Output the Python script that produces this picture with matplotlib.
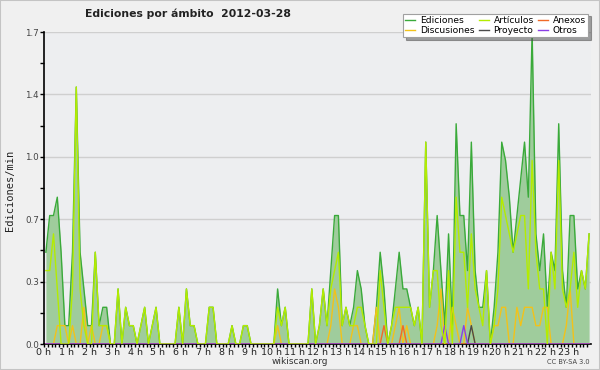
import numpy as np
import matplotlib
matplotlib.use("Agg")
import matplotlib.pyplot as plt
from matplotlib.patches import Rectangle

# Edits per minute, 10-minute bins (144 per day)
ediciones = [
    0.5, 0.7, 0.7, 0.8, 0.5, 0.1, 0.1, 0.5, 1.4, 0.5, 0.3, 0.1,
    0.1, 0.5, 0.1, 0.2, 0.2, 0.0, 0.0, 0.3, 0.0, 0.2, 0.1, 0.1,
    0.0, 0.1, 0.2, 0.0, 0.1, 0.2, 0.0, 0.0, 0.0, 0.0, 0.0, 0.2,
    0.0, 0.3, 0.1, 0.1, 0.0, 0.0, 0.0, 0.2, 0.2, 0.0, 0.0, 0.0,
    0.0, 0.1, 0.0, 0.0, 0.1, 0.1, 0.0, 0.0, 0.0, 0.0, 0.0, 0.0,
    0.0, 0.3, 0.1, 0.2, 0.0, 0.0, 0.0, 0.0, 0.0, 0.0, 0.3, 0.0,
    0.1, 0.3, 0.1, 0.4, 0.7, 0.7, 0.1, 0.2, 0.1, 0.2, 0.4, 0.3,
    0.1, 0.0, 0.0, 0.2, 0.5, 0.3, 0.0, 0.1, 0.3, 0.5, 0.3, 0.3,
    0.2, 0.1, 0.2, 0.0, 1.1, 0.2, 0.4, 0.7, 0.4, 0.1, 0.6, 0.1,
    1.2, 0.7, 0.7, 0.4, 1.1, 0.4, 0.2, 0.2, 0.4, 0.0, 0.2, 0.5,
    1.1, 1.0, 0.8, 0.5, 0.7, 0.9, 1.1, 0.8, 1.7, 0.6, 0.4, 0.6,
    0.2, 0.5, 0.4, 1.2, 0.4, 0.2, 0.7, 0.7, 0.3, 0.4, 0.3, 0.6,
]
articulos = [
    0.4, 0.4, 0.6, 0.3, 0.0, 0.0, 0.0, 0.3, 1.4, 0.3, 0.1, 0.0,
    0.0, 0.5, 0.1, 0.1, 0.1, 0.0, 0.0, 0.3, 0.0, 0.2, 0.1, 0.1,
    0.0, 0.1, 0.2, 0.0, 0.1, 0.2, 0.0, 0.0, 0.0, 0.0, 0.0, 0.2,
    0.0, 0.3, 0.1, 0.1, 0.0, 0.0, 0.0, 0.2, 0.2, 0.0, 0.0, 0.0,
    0.0, 0.1, 0.0, 0.0, 0.1, 0.1, 0.0, 0.0, 0.0, 0.0, 0.0, 0.0,
    0.0, 0.2, 0.1, 0.2, 0.0, 0.0, 0.0, 0.0, 0.0, 0.0, 0.3, 0.0,
    0.1, 0.3, 0.1, 0.3, 0.4, 0.5, 0.1, 0.2, 0.1, 0.1, 0.2, 0.2,
    0.1, 0.0, 0.0, 0.0, 0.4, 0.2, 0.0, 0.1, 0.2, 0.2, 0.2, 0.2,
    0.2, 0.1, 0.2, 0.0, 1.1, 0.2, 0.4, 0.4, 0.1, 0.0, 0.4, 0.0,
    0.8, 0.5, 0.5, 0.2, 0.6, 0.3, 0.2, 0.1, 0.4, 0.0, 0.1, 0.3,
    0.8, 0.7, 0.6, 0.5, 0.6, 0.7, 0.7, 0.3, 1.0, 0.5, 0.3, 0.3,
    0.0, 0.5, 0.3, 1.0, 0.3, 0.2, 0.3, 0.5, 0.2, 0.4, 0.3, 0.6,
]
discusiones = [
    0.0, 0.0, 0.0, 0.1, 0.1, 0.1, 0.0, 0.1, 0.0, 0.0, 0.2, 0.0,
    0.1, 0.0, 0.0, 0.1, 0.1, 0.0, 0.0, 0.0, 0.0, 0.0, 0.0, 0.0,
    0.0, 0.0, 0.0, 0.0, 0.0, 0.0, 0.0, 0.0, 0.0, 0.0, 0.0, 0.0,
    0.0, 0.0, 0.0, 0.0, 0.0, 0.0, 0.0, 0.0, 0.0, 0.0, 0.0, 0.0,
    0.0, 0.0, 0.0, 0.0, 0.0, 0.0, 0.0, 0.0, 0.0, 0.0, 0.0, 0.0,
    0.0, 0.1, 0.0, 0.0, 0.0, 0.0, 0.0, 0.0, 0.0, 0.0, 0.0, 0.0,
    0.0, 0.0, 0.0, 0.1, 0.3, 0.2, 0.0, 0.0, 0.0, 0.1, 0.1, 0.0,
    0.0, 0.0, 0.0, 0.2, 0.0, 0.0, 0.0, 0.0, 0.1, 0.2, 0.0, 0.1,
    0.0, 0.0, 0.0, 0.0, 0.0, 0.0, 0.0, 0.1, 0.3, 0.0, 0.0, 0.2,
    0.1, 0.0, 0.0, 0.2, 0.1, 0.0, 0.0, 0.0, 0.0, 0.0, 0.1, 0.1,
    0.2, 0.2, 0.0, 0.0, 0.2, 0.1, 0.2, 0.2, 0.2, 0.1, 0.1, 0.2,
    0.2, 0.0, 0.0, 0.0, 0.0, 0.1, 0.3, 0.0, 0.0, 0.0, 0.0, 0.0,
]
# sparse series: bin index -> value
anexos = {89: 0.1, 94: 0.1}
proyecto = {112: 0.1}
otros = {105: 0.1, 110: 0.1}

y_ticks = [0.0, 0.34, 0.68, 1.02, 1.36, 1.7]
y_labels = ["0.0", "0.3", "0.7", "1.0", "1.4", "1.7"]
hours = [f"{h} h" for h in range(24)]

n = len(ediciones)
t = (np.arange(n) + 0.5) / 6.0


def dense(d):
    out = np.zeros(n)
    for k, v in d.items():
        out[k] = v
    return out


fig = plt.figure(figsize=(6, 3.7), dpi=100, facecolor="#f0f0f0")
fig.patches.append(Rectangle((0, 0), 1, 1, transform=fig.transFigure,
                             fill=False, edgecolor="#c4c4c4", lw=1.5))

ax = fig.add_axes([44 / 600, 26 / 370, 547 / 600, 312 / 370])
ax.set_facecolor("#edeef0")
ax.set_xlim(0, 24)
ax.set_ylim(0, 1.7)

for yv in y_ticks[1:]:
    ax.axhline(yv, color="#cfcfcf", lw=1, zorder=0)

ax.fill_between(t, ediciones, color="#9fcc9c", lw=0, zorder=1)
ax.plot(t, ediciones, color="#3aaa3a", lw=1, zorder=2, label="Ediciones")
ax.plot(t, discusiones, color="#f2c21a", lw=1, zorder=3, label="Discusiones")
ax.plot(t, articulos, color="#b4ec00", lw=1, zorder=4, label="Artículos")
ax.plot(t, dense(proyecto), color="#4a4a4a", lw=1, zorder=3, label="Proyecto")
ax.plot(t, dense(anexos), color="#f06a28", lw=1, zorder=3, label="Anexos")
ax.plot(t, dense(otros), color="#8a3ee6", lw=1, zorder=3, label="Otros")

for s in ["top", "right"]:
    ax.spines[s].set_visible(False)
ax.spines["left"].set_linewidth(1.2)
ax.spines["bottom"].set_linewidth(1.2)

ax.set_xticks(range(24))
ax.set_xticklabels(hours, fontsize=6.8, color="#222222")
ax.set_xticks(np.arange(0, 24, 1 / 6), minor=True)
ax.tick_params(axis="x", which="both", direction="out", length=2.5, width=1, pad=0.5)
ax.set_yticks(y_ticks)
ax.set_yticklabels(y_labels, fontsize=6.3, color="#444444")
ax.set_yticks(np.arange(0.17, 1.7, 0.34), minor=True)
ax.tick_params(axis="y", which="both", direction="out", length=3, width=1, pad=0.5)

fig.text(10 / 600, 1 - 190 / 370, "Ediciones/min", rotation=90, va="center",
         ha="center", fontsize=7.5, family="DejaVu Sans Mono", color="#222222")
fig.text(85 / 600, 1 - 14 / 370, "Ediciones por ámbito  2012-03-28",
         fontsize=7.8, fontweight="bold", ha="left", va="center", color="#222222")
fig.text(300 / 600, 1 - 362 / 370, "wikiscan.org", fontsize=6.5,
         ha="center", va="center", color="#333333")
fig.text(590 / 600, 1 - 362 / 370, "CC BY-SA 3.0", fontsize=4.8,
         ha="right", va="center", color="#444444")

handles, labels = ax.get_legend_handles_labels()
leg = fig.legend(handles, labels, ncol=3, loc="upper right",
                 bbox_to_anchor=(593 / 600, 1 - 9 / 370), fontsize=6.6,
                 handlelength=1.1, handletextpad=0.5, columnspacing=0.5,
                 labelspacing=0.1, borderpad=0.25, fancybox=False,
                 shadow=True, framealpha=1)
leg.get_frame().set_edgecolor("#a0a0a0")
leg.get_frame().set_linewidth(0.8)

fig.savefig("out.png", dpi=100, facecolor=fig.get_facecolor())
